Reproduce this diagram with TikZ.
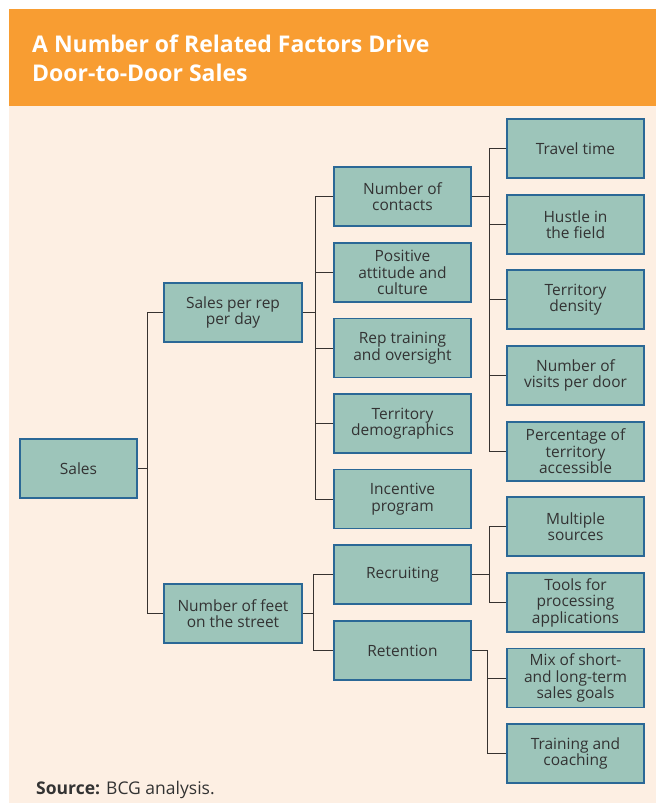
\documentclass[tikz,border=0pt]{standalone}
\usepackage{fontspec}
\setmainfont{Open Sans}
\definecolor{orangebar}{RGB}{248,157,50}
\definecolor{peach}{RGB}{253,239,227}
\definecolor{boxfill}{RGB}{157,197,186}
\definecolor{boxborder}{RGB}{43,104,150}
\definecolor{txt}{RGB}{51,51,51}
\definecolor{linec}{RGB}{55,50,48}
\begin{document}
\begin{tikzpicture}[x=1pt,y=1pt,
  box/.style={draw=boxborder, fill=boxfill, line width=1.2pt, minimum width=137pt,
    minimum height=59pt, align=center, text=txt, inner sep=0pt,
    font=\fontsize{15.5}{16.5}\selectfont},
  conn/.style={draw=linec, line width=1pt},
  ttl/.style={anchor=base west, text=white, inner sep=0pt, font=\fontsize{23}{28}\selectfont\bfseries}]
\useasboundingbox (0,0) rectangle (656,-803);
\fill[white] (0,0) rectangle (656,-803);
\fill[orangebar] (9,-9) rectangle (656,-106);
\fill[peach] (9,-106) rectangle (656,-803);
\node[ttl] (t1) at (32,-52) {A Number of Related Factors Drive};
\node[ttl] (t2) at (32,-81) {Door-to-Door Sales};
\node[anchor=base west, text=txt, inner sep=0pt, font=\fontsize{17.5}{18}\selectfont] (src) at (36,-794) {\textbf{Source:} BCG analysis.};
% level 0
\node[box, minimum width=117pt] (sales) at (78.5,-468.5) {Sales};
% level 1
\node[box, minimum width=138pt] (spr) at (233,-312.5) {Sales per rep\\per day};
\node[box, minimum width=138pt] (feet) at (233,-613.5) {Number of feet\\on the street};
% level 2
\node[box] (noc) at (402.5,-196.5) {Number of\\contacts};
\node[box] (pos) at (402.5,-272.5) {Positive\\attitude and\\culture};
\node[box] (rep) at (402.5,-348) {Rep training\\and oversight};
\node[box] (dem) at (402.5,-423.5) {Territory\\demographics};
\node[box] (inc) at (402.5,-499) {Incentive\\program};
\node[box] (rec) at (402.5,-574.5) {Recruiting};
\node[box] (ret) at (402.5,-650.5) {Retention};
% level 3
\node[box] (trav) at (575.5,-148.5) {Travel time};
\node[box] (hus) at (575.5,-224.5) {Hustle in\\the field};
\node[box] (den) at (575.5,-299.5) {Territory\\density};
\node[box] (vis) at (575.5,-375.5) {Number of\\visits per door};
\node[box] (pct) at (575.5,-451.5) {Percentage of\\territory\\accessible};
\node[box] (mul) at (575.5,-526.5) {Multiple\\sources};
\node[box] (tool) at (575.5,-602.5) {Tools for\\processing\\applications};
\node[box] (mix) at (575.5,-678) {Mix of short-\\and long-term\\sales goals};
\node[box] (trn) at (575.5,-753.5) {Training and\\coaching};
% trunks
\coordinate (a0) at (147,0);
\coordinate (a1) at (315,0);
\coordinate (a1b) at (313,0);
\coordinate (a2) at (489,0);
\coordinate (a2b) at (487,0);
% sales
\draw[conn] (sales.east) -- (sales.east -| a0);
\draw[conn] (spr.west) -- (spr.west -| a0) -- (feet.west -| a0) -- (feet.west);
% sales per rep
\draw[conn] (spr.east) -- (spr.east -| a1);
\draw[conn] (noc.west) -- (noc.west -| a1) -- (inc.west -| a1) -- (inc.west);
\draw[conn] (pos.west) -- (pos.west -| a1);
\draw[conn] (rep.west) -- (rep.west -| a1);
\draw[conn] (dem.west) -- (dem.west -| a1);
% feet
\draw[conn] (feet.east) -- (feet.east -| a1b);
\draw[conn] (rec.west) -- (rec.west -| a1b) -- (ret.west -| a1b) -- (ret.west);
% number of contacts
\draw[conn] (noc.east) -- (noc.east -| a2);
\draw[conn] (trav.west) -- (trav.west -| a2) -- (pct.west -| a2) -- (pct.west);
\draw[conn] (hus.west) -- (hus.west -| a2);
\draw[conn] (den.west) -- (den.west -| a2);
\draw[conn] (vis.west) -- (vis.west -| a2);
% recruiting
\draw[conn] (rec.east) -- (rec.east -| a2);
\draw[conn] (mul.west) -- (mul.west -| a2) -- (tool.west -| a2) -- (tool.west);
% retention
\draw[conn] (ret.east) -- (ret.east -| a2b) -- (trn.west -| a2b) -- (trn.west);
\draw[conn] (mix.west) -- (mix.west -| a2b);
\end{tikzpicture}
\end{document}
